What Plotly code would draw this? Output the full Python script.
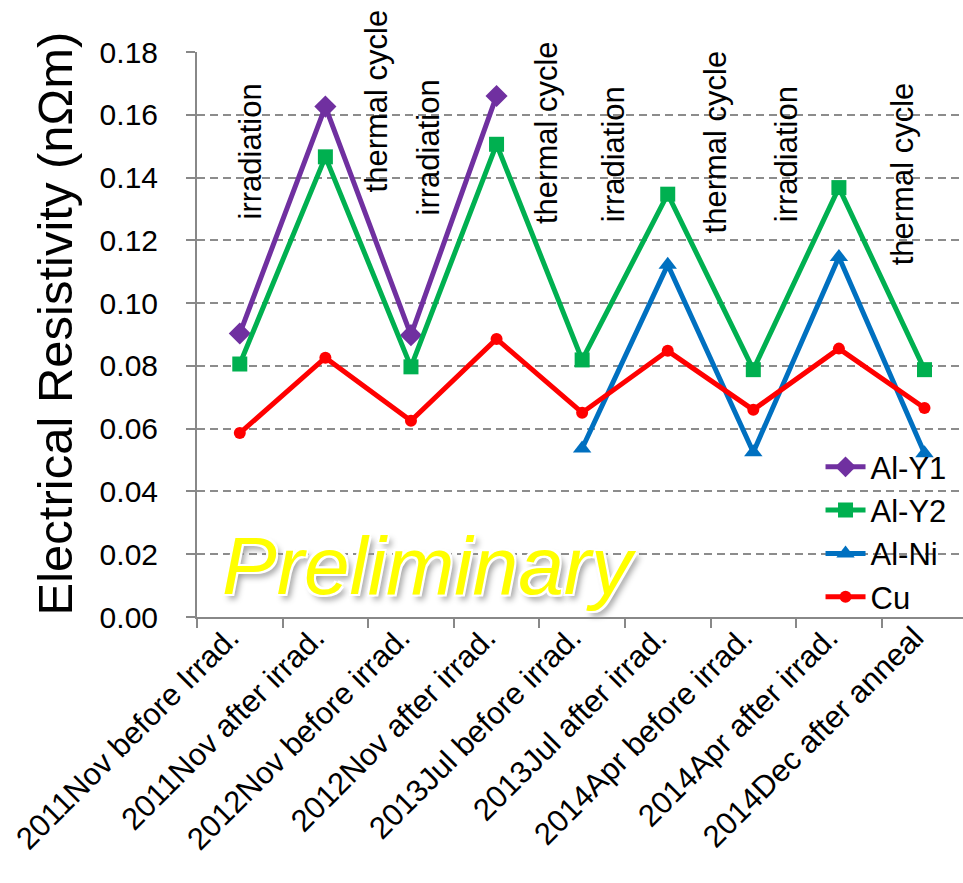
import plotly.graph_objects as go

categories = [
    "2011Nov before Irrad.", "2011Nov after irrad.", "2012Nov before irrad.",
    "2012Nov after irrad.", "2013Jul before irrad.", "2013Jul after irrad.",
    "2014Apr before irrad.", "2014Apr after irrad.", "2014Dec after anneal",
]
al_y1 = [0.0903, 0.1626, 0.0898, 0.1660, None, None, None, None, None]
al_y2 = [0.0806, 0.1466, 0.0797, 0.1506, 0.0819, 0.1347, 0.0788, 0.1368, 0.0788]
al_ni = [None, None, None, None, 0.0537, 0.1122, 0.0525, 0.1147, 0.0522]
cu = [0.0586, 0.0826, 0.0625, 0.0886, 0.0651, 0.0848, 0.0660, 0.0855, 0.0666]
y_ticks = [0.00, 0.02, 0.04, 0.06, 0.08, 0.10, 0.12, 0.14, 0.16, 0.18]
step_labels = ["irradiation", "thermal cycle", "irradiation", "thermal cycle",
               "irradiation", "thermal cycle", "irradiation", "thermal cycle"]

FONT = "Liberation Sans, Arial, sans-serif"

series = [
    ("Al-Y1", al_y1, "#7030A0", "diamond", 17),
    ("Al-Y2", al_y2, "#00B050", "square", 15),
    ("Al-Ni", al_ni, "#0070C0", "triangle-up", 16),
    ("Cu", cu, "#FF0000", "circle", 12),
]

fig = go.Figure()
for name, vals, color, sym, size in series:
    fig.add_trace(go.Scatter(
        x=categories, y=vals, name=name, mode="lines+markers",
        line=dict(color=color, width=5),
        marker=dict(symbol=sym, size=size, color=color),
        connectgaps=False,
    ))

# rotated step annotations (layout positions, x in category index units)
ann_pos = [(0.13, 0.1483), (1.60, 0.1645), (2.20, 0.1496), (3.59, 0.1542),
           (4.36, 0.1474), (5.56, 0.1514), (6.38, 0.1474), (7.74, 0.1411)]
annotations = []
for (ax, ay), txt in zip(ann_pos, step_labels):
    annotations.append(dict(
        x=ax, y=ay, xref="x", yref="y", text=txt, showarrow=False,
        textangle=-90, xanchor="center", yanchor="middle",
        font=dict(family=FONT, size=31, color="black"),
    ))

annotations.append(dict(
    x=0.303, y=0.092, xref="paper", yref="paper", text="<i>Preliminary</i>",
    showarrow=False, xanchor="center", yanchor="middle",
    font=dict(family=FONT, size=82, color="#FFFF00",
              shadow="-2px -2px 0 #fff, 2px -2px 0 #fff, -2px 2px 0 #fff, 2px 2px 0 #fff, 4px 5px 6px #999"),
))

# y-axis title as rotated annotation for exact placement
annotations.append(dict(
    x=-0.185, y=0.52, xref="paper", yref="paper",
    text="Electrical Resistivity (nΩm)", showarrow=False,
    textangle=-90, xanchor="center", yanchor="middle",
    font=dict(family=FONT, size=49, color="black"),
))

fig.update_layout(
    width=963, height=883,
    margin=dict(l=197, r=0, t=52, b=266),
    paper_bgcolor="white", plot_bgcolor="white",
    font=dict(family=FONT, color="black"),
    showlegend=True,
    legend=dict(
        x=0.814, y=0.313, xanchor="left", yanchor="top",
        bgcolor="rgba(0,0,0,0)", font=dict(family=FONT, size=31),
        itemwidth=40, tracegroupgap=0,
    ),
    annotations=annotations,
    xaxis=dict(
        type="category", categoryorder="array", categoryarray=categories,
        range=[-0.5, 8.45], tickangle=-45,
        tickfont=dict(family=FONT, size=31, color="black"),
        showgrid=False, zeroline=False,
        showline=True, linecolor="#888888", linewidth=2,
        ticks="outside", ticklen=9, tickcolor="#888888", tickwidth=2,
        tickson="boundaries",
        ticklabelshift=-10, ticklabelstandoff=-12,
    ),
    yaxis=dict(
        range=[0, 0.18], tickmode="array", tickvals=y_ticks,
        ticktext=[f"{v:.2f}" for v in y_ticks],
        tickfont=dict(family=FONT, size=30, color="black"),
        showgrid=True, gridcolor="#8c8c8c", gridwidth=1.5, griddash="8px,5px",
        zeroline=False,
        showline=True, linecolor="#888888", linewidth=2,
        ticks="outside", ticklen=9, tickcolor="#888888", tickwidth=2,
        ticklabelstandoff=22,
    ),
)

fig.write_html("out.html")
